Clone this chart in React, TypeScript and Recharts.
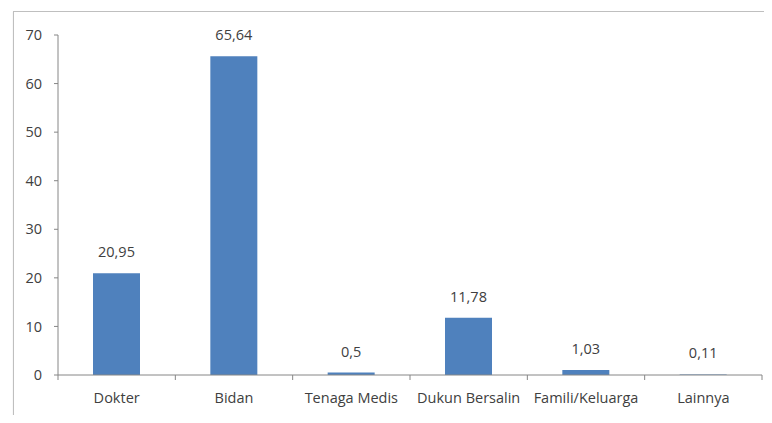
import { BarChart, Bar, XAxis, YAxis, LabelList } from "recharts";

const categories = ["Dokter", "Bidan", "Tenaga Medis", "Dukun Bersalin", "Famili/Keluarga", "Lainnya"];
const values = [20.95, 65.64, 0.5, 11.78, 1.03, 0.11];
const yTicks = [0, 10, 20, 30, 40, 50, 60, 70];

const data = categories.map((name, i) => ({ name, value: values[i] }));

const FONT = "'Open Sans', 'Liberation Sans', sans-serif";
const AXIS = "#868686";
const TEXT = "#404040";
const PLOT_W = 704;

const CategoryTick = (props: any) => {
  const { x, y, payload, index } = props;
  const band = PLOT_W / categories.length;
  return (
    <g>
      <line x1={x - band / 2} x2={x - band / 2} y1={y - 8} y2={y - 3} stroke={AXIS} />
      {index === categories.length - 1 && (
        <line x1={x + band / 2} x2={x + band / 2} y1={y - 8} y2={y - 3} stroke={AXIS} />
      )}
      <text x={x} y={y + 20} textAnchor="middle" fill={TEXT} fontSize={14.5} fontFamily={FONT}>
        {payload.value}
      </text>
    </g>
  );
};

const App = () => {
  return (
    <div style={{ position: "relative", width: 772, height: 423, margin: -8, background: "#fff", overflow: "hidden" }}>
      <div
        style={{
          position: "absolute",
          left: 13,
          top: 11,
          width: 756,
          height: 430,
          border: "1px solid #bfbfbf",
          boxShadow: "0 1px 1px #d9d9d9",
        }}
      />
      <div style={{ position: "absolute", left: 0, top: 0 }}>
        <BarChart width={772} height={423} data={data} margin={{ top: 35, right: 10, bottom: 18, left: 18 }}>
          <YAxis
            domain={[0, 70]}
            ticks={yTicks}
            width={40}
            axisLine={{ stroke: AXIS }}
            tickLine={{ stroke: AXIS }}
            tickSize={4}
            tickMargin={12}
            tick={{ fill: TEXT, fontSize: 14.5, fontFamily: FONT }}
          />
          <XAxis
            dataKey="name"
            height={30}
            axisLine={{ stroke: AXIS }}
            tickLine={false}
            interval={0}
            tick={<CategoryTick />}
          />
          <Bar dataKey="value" fill="#4f81bd" barSize={47} isAnimationActive={false}>
            <LabelList
              dataKey="value"
              position="top"
              offset={16}
              formatter={(v: number) => String(v).replace(".", ",")}
              style={{ fill: TEXT, fontSize: 14.5, fontFamily: FONT }}
            />
          </Bar>
        </BarChart>
      </div>
    </div>
  );
};

export default App;
